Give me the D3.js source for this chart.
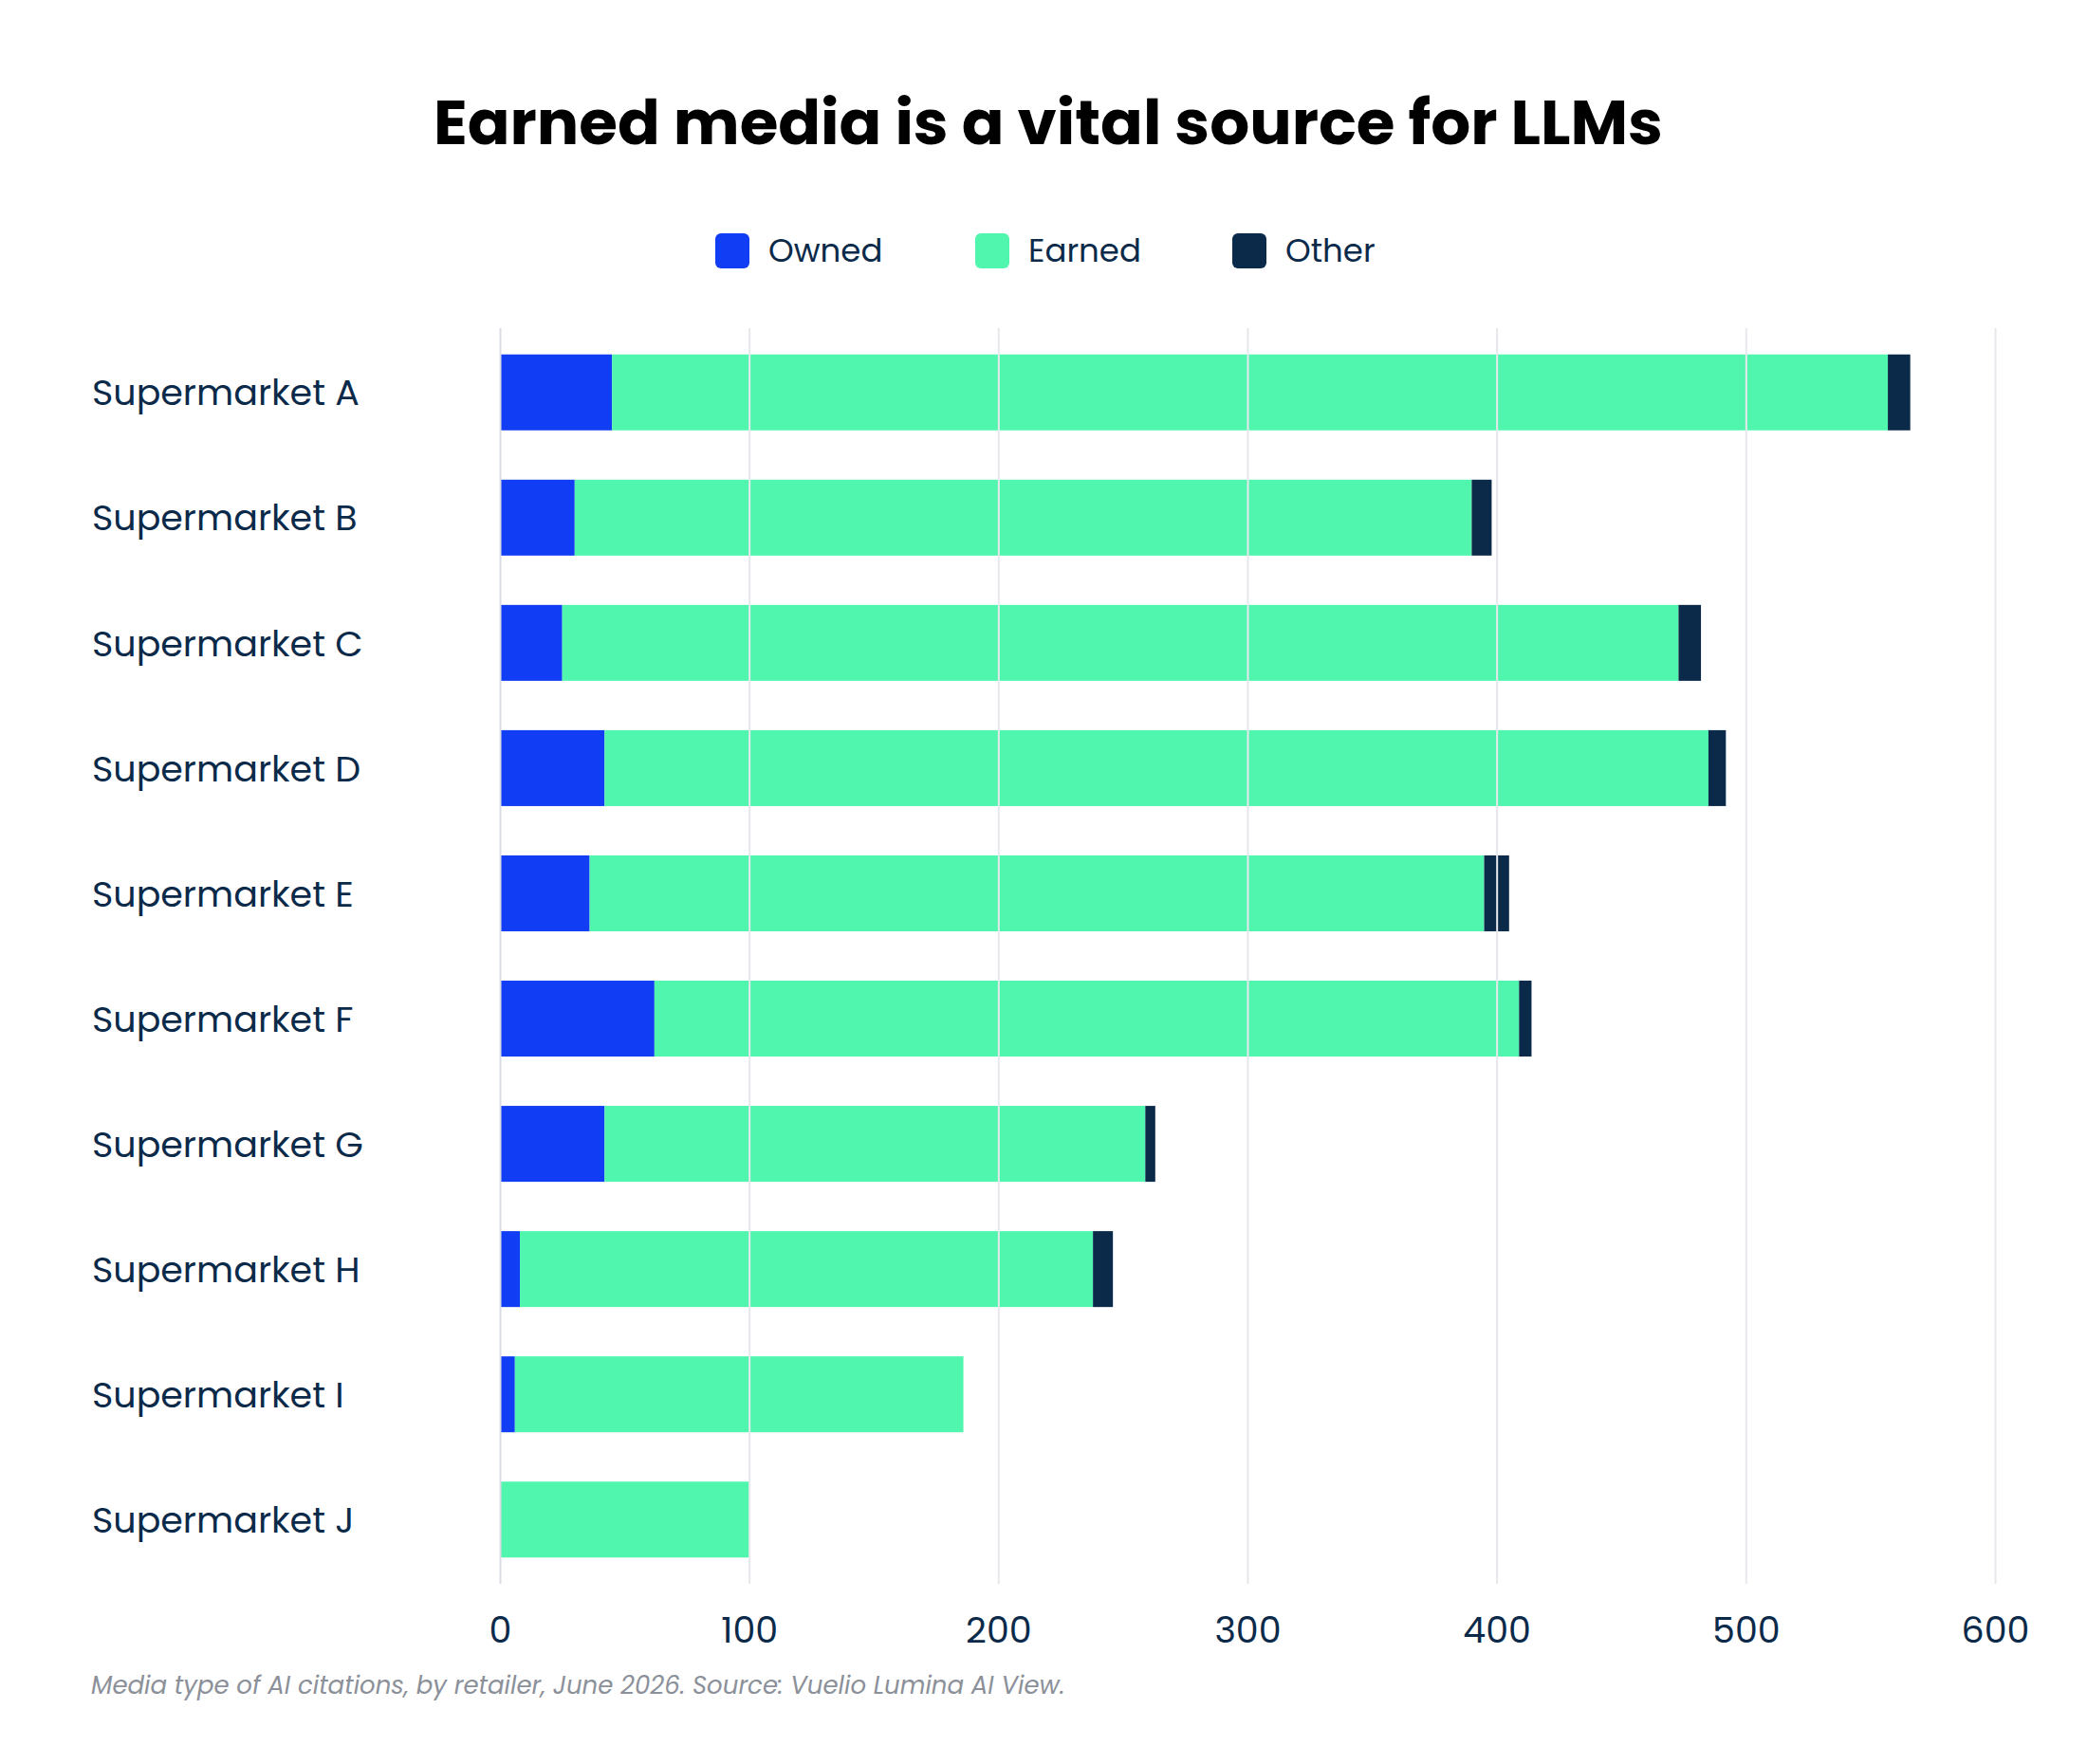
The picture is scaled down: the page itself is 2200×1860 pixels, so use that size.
<!DOCTYPE html>
<html>
<head>
<meta charset="utf-8">
<script src="https://cdn.jsdelivr.net/npm/d3@7"></script>
<style>
  html, body { margin: 0; padding: 0; background: #fff; }
  svg { display: block; font-family: Poppins, Inter, "Noto Sans", sans-serif; }
</style>
</head>
<body>
<svg id="chart" width="2200" height="1860"></svg>
<script>
var categories = ["Supermarket A", "Supermarket B", "Supermarket C", "Supermarket D", "Supermarket E",
  "Supermarket F", "Supermarket G", "Supermarket H", "Supermarket I", "Supermarket J"];
var owned = [45, 30, 25, 42, 36, 62, 42, 8, 6, 0];
var earned = [512, 360, 448, 443, 359, 347, 217, 230, 180, 100];
var other = [9, 8, 9, 7, 10, 5, 4, 8, 0, 0];
var seriesNames = ["Owned", "Earned", "Other"];
var seriesColors = ["#113df5", "#50f5ae", "#0b2a4a"];
var xTicks = [0, 100, 200, 300, 400, 500, 600];

var svg = d3.select("#chart");
var ink = "#0b2a4a";

var rows = categories.map(function(c, i) {
  return { name: c, Owned: owned[i], Earned: earned[i], Other: other[i] };
});

var x = d3.scaleLinear().domain([0, 600]).range([527, 2103]);
var y = d3.scaleBand().domain(categories).range([346, 1670]).paddingInner(0.394).paddingOuter(0.21);

var stacked = d3.stack().keys(seriesNames)(rows);

// title
svg.append("text")
  .attr("x", 1105)
  .attr("y", 152)
  .attr("text-anchor", "middle")
  .attr("font-size", 66)
  .attr("font-weight", 700)
  .attr("fill", "#000")
  .text("Earned media is a vital source for LLMs");

// legend
var legendX = [754, 1028, 1299];
var legend = svg.append("g").selectAll("g")
  .data(seriesNames)
  .join("g")
  .attr("transform", function(d, i) { return "translate(" + legendX[i] + ",246)"; });
legend.append("rect")
  .attr("width", 36)
  .attr("height", 37)
  .attr("rx", 6)
  .attr("fill", function(d, i) { return seriesColors[i]; });
legend.append("text")
  .attr("x", 56)
  .attr("y", 30)
  .attr("font-size", 34)
  .attr("fill", ink)
  .text(function(d) { return d; });

// bars
svg.append("g").selectAll("g")
  .data(stacked)
  .join("g")
  .attr("fill", function(d, i) { return seriesColors[i]; })
  .selectAll("rect")
  .data(function(d) { return d; })
  .join("rect")
  .attr("x", function(d) { return x(d[0]); })
  .attr("y", function(d) { return y(d.data.name); })
  .attr("width", function(d) { return x(d[1]) - x(d[0]); })
  .attr("height", y.bandwidth());

// gridlines sit on top of the bars
svg.append("g")
  .attr("transform", "translate(0,1670)")
  .call(d3.axisBottom(x).tickValues(xTicks).tickSize(-(1670 - 346)).tickFormat(""))
  .call(function(g) {
    g.select(".domain").remove();
    g.selectAll(".tick line")
      .attr("stroke", function(d) { return d === 0 ? "#d9dde3" : "#e6e8ec"; })
      .attr("stroke-width", 2);
  });

// x tick labels
svg.append("g")
  .attr("transform", "translate(0,1732)")
  .call(d3.axisBottom(x).tickValues(xTicks).tickSize(0).tickPadding(0))
  .call(function(g) {
    g.select(".domain").remove();
    g.selectAll(".tick text")
      .attr("dy", 0)
      .attr("font-size", 38)
      .attr("font-family", "Poppins, Inter, sans-serif")
      .attr("fill", ink);
  });

// category labels
svg.append("g").selectAll("text")
  .data(categories)
  .join("text")
  .attr("x", 97)
  .attr("y", function(d) { return y(d) + y.bandwidth() / 2; })
  .attr("dy", "0.36em")
  .attr("font-size", 38)
  .attr("fill", ink)
  .text(function(d) { return d; });

// footnote
svg.append("text")
  .attr("x", 96)
  .attr("y", 1786)
  .attr("font-size", 26)
  .attr("font-style", "italic")
  .attr("fill", "#8b9099")
  .text("Media type of AI citations, by retailer, June 2026. Source: Vuelio Lumina AI View.");
</script>
</body>
</html>
